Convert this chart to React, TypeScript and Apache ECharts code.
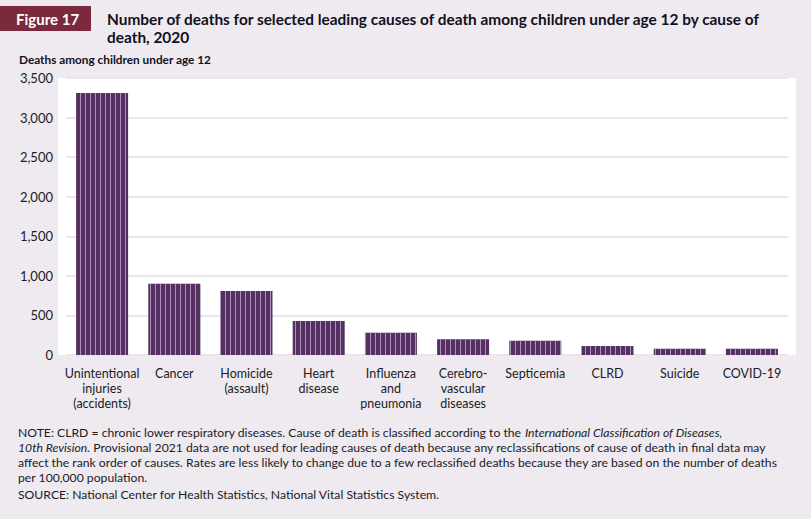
import React, { useEffect, useRef } from "react";
import * as echarts from "echarts";

const categories = [
  "Unintentional\ninjuries\n(accidents)",
  "Cancer",
  "Homicide\n(assault)",
  "Heart\ndisease",
  "Influenza\nand\npneumonia",
  "Cerebro-\nvascular\ndiseases",
  "Septicemia",
  "CLRD",
  "Suicide",
  "COVID-19",
];
const deaths = [3310, 900, 810, 430, 280, 200, 180, 115, 80, 78];
const yTicks = { min: 0, max: 3500, interval: 500 };

const titleLines = [
  "Number of deaths for selected leading causes of death among children under age 12 by cause of",
  "death, 2020",
];
const FONT = "Lato, 'Open Sans', sans-serif";

export default function App() {
  const ref = useRef<HTMLDivElement>(null);
  useEffect(() => {
    document.body.style.margin = "0";
    const chart = echarts.init(ref.current!, null, { renderer: "svg" });
    const textColor = "#1b1b24";
    chart.setOption({
      animation: false,
      backgroundColor: "#eeeaf0",
      textStyle: { fontFamily: FONT },
      grid: { left: 66, right: 23, top: 78, bottom: 164 },
      xAxis: {
        type: "category",
        data: categories,
        axisLine: { show: false },
        axisTick: { show: false },
        axisLabel: {
          color: textColor,
          fontSize: 12.5,
          lineHeight: 15,
          margin: 11,
          interval: 0,
          fontFamily: FONT,
        },
      },
      yAxis: {
        type: "value",
        min: yTicks.min,
        max: yTicks.max,
        interval: yTicks.interval,
        axisLine: { show: false },
        axisTick: { show: false },
        splitLine: { lineStyle: { color: "#ebe5ee", width: 2 } },
        axisLabel: {
          color: textColor,
          fontSize: 13,
          margin: 13,
          fontFamily: FONT,
          formatter: (v: number) => v.toLocaleString("en-US"),
        },
      },
      series: [
        {
          type: "bar",
          data: deaths,
          barWidth: "72%",
          itemStyle: {
            color: "#552f62",
            decal: {
              symbol: "rect",
              symbolSize: 1,
              dashArrayX: [1, 4],
              dashArrayY: [4, 0],
              color: "#a892b8",
            },
          },
        },
      ],
      graphic: [
        {
          type: "rect",
          z: -10,
          shape: { x: 58, y: 78, width: 738, height: 277 },
          style: { fill: "#ffffff" },
          silent: true,
        },
        {
          type: "rect",
          shape: { x: 0, y: 6, width: 91, height: 25 },
          style: { fill: "#7a2a3c" },
        },
        {
          type: "text",
          x: 16,
          y: 18.5,
          style: {
            text: "Figure 17",
            fill: "#ffffff",
            font: `bold 15px ${FONT}`,
            verticalAlign: "middle",
          },
        },
        {
          type: "text",
          x: 107,
          y: 19,
          style: {
            text: titleLines[0],
            fill: "#111122",
            font: `bold 15.4px ${FONT}`,
            verticalAlign: "middle",
          },
        },
        {
          type: "text",
          x: 107,
          y: 37,
          style: {
            text: titleLines[1],
            fill: "#111122",
            font: `bold 15.4px ${FONT}`,
            verticalAlign: "middle",
          },
        },
        {
          type: "text",
          x: 19,
          y: 59,
          style: {
            text: "Deaths among children under age 12",
            fill: "#111122",
            font: `bold 11.8px ${FONT}`,
            verticalAlign: "middle",
          },
        },
        {
          type: "text",
          x: 18,
          y: 425,
          style: {
            text:
              "{n|NOTE: CLRD = chronic lower respiratory diseases. Cause of death is classified according to the }{i|International Classification of Diseases,}\n" +
              "{i|10th Revision.}{n| Provisional 2021 data are not used for leading causes of death because any reclassifications of cause of death in final data may}\n" +
              "{n|affect the rank order of causes. Rates are less likely to change due to a few reclassified deaths because they are based on the number of deaths}\n" +
              "{n|per 100,000 population.}",
            fill: "#1b1b24",
            rich: {
              n: { fontSize: 12.2, lineHeight: 15, fontFamily: FONT, fill: "#1b1b24" },
              i: { fontSize: 12.2, lineHeight: 15, fontFamily: FONT, fontStyle: "italic", fill: "#1b1b24" },
            },
          },
        },
        {
          type: "text",
          x: 18,
          y: 494,
          style: {
            text: "SOURCE: National Center for Health Statistics, National Vital Statistics System.",
            fill: "#1b1b24",
            font: `12.2px ${FONT}`,
            verticalAlign: "middle",
          },
        },
      ],
    });
    return () => chart.dispose();
  }, []);
  return <div ref={ref} style={{ width: 811, height: 519 }} />;
}
